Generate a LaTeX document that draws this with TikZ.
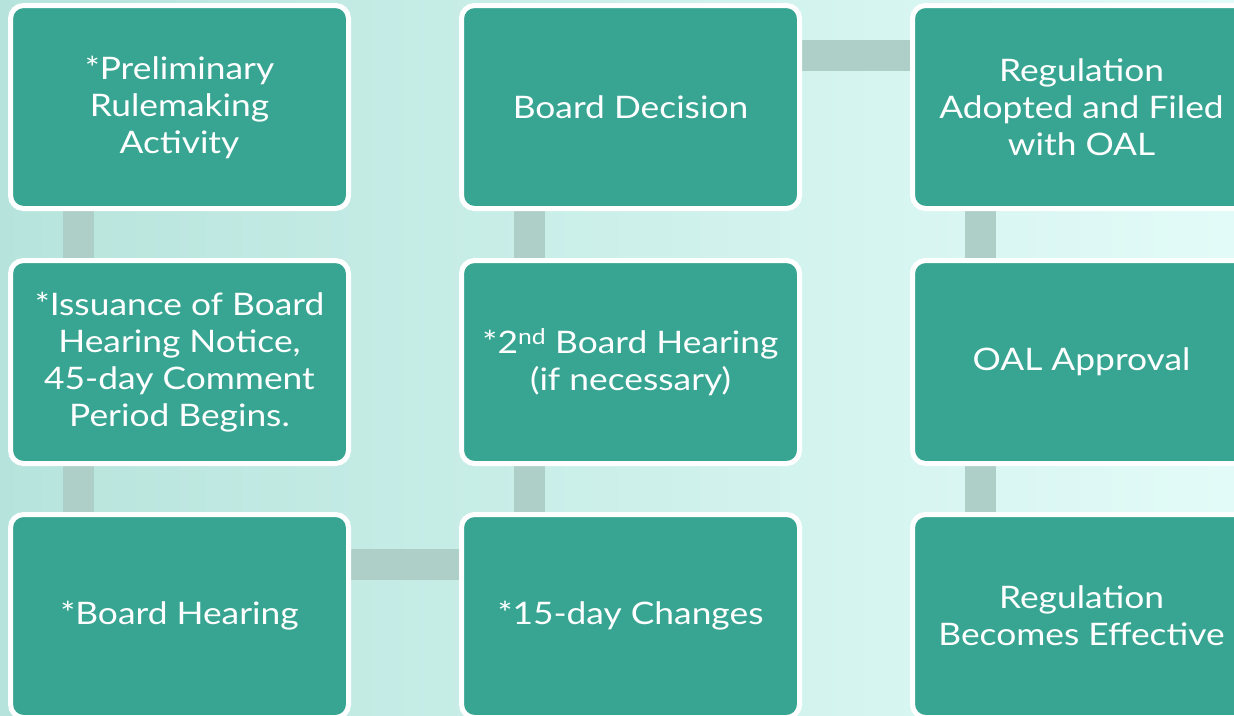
\documentclass[tikz,border=0pt]{standalone}
\usepackage{fontspec}
\setmainfont{Lato}[FakeStretch=1.14]
\usetikzlibrary{calc}
\definecolor{boxfill}{HTML}{38A593}
\definecolor{conncol}{HTML}{AECEC8}
\definecolor{bgL}{HTML}{B6E4DC}
\definecolor{bgR}{HTML}{E3FBF8}
\pgfdeclarelayer{bg}
\pgfdeclarelayer{links}
\pgfsetlayers{bg,links,main}
\tikzset{
  stepbox/.style={draw=white, line width=5pt, fill=boxfill, rounded corners=13pt,
    minimum width=338pt, minimum height=203pt, text=white, align=center,
    font=\fontsize{31}{37}\selectfont, inner sep=0pt},
  link/.style={draw=conncol, line width=31pt}
}
\begin{document}
\begin{tikzpicture}[x=1pt,y=-1pt]
\useasboundingbox (0,0) rectangle (1234,715);
\clip (0,0) rectangle (1234,715);
\begin{pgfonlayer}{bg}
\shade[left color=bgL, right color=bgR] (0,0) rectangle (1234,715);
\end{pgfonlayer}
\node[stepbox] (b1) at (179.5,107) {*Preliminary\\Rulemaking\\Activity};
\node[stepbox] (b2) at (179.5,362) {*Issuance of Board\\Hearing Notice,\\45-day Comment\\Period Begins.};
\node[stepbox] (b3) at (179.5,616) {*Board Hearing};
\node[stepbox] (b4) at (630.5,616) {*15-day Changes};
\node[stepbox] (b5) at (630.5,362) {*2\textsuperscript{nd} Board Hearing\\(if necessary)};
\node[stepbox] (b6) at (630.5,107) {Board Decision};
\node[stepbox] (b7) at (1081.5,107) {Regulation\\Adopted and Filed\\with OAL};
\node[stepbox] (b8) at (1081.5,362) {OAL Approval};
\node[stepbox] (b9) at (1081.5,616) {Regulation\\Becomes Effective};
\begin{pgfonlayer}{links}
\draw[link] ([xshift=-101pt]b1.center) -- ([xshift=-101pt]b3.center);
\draw[link] ([yshift=52pt]b3.center) -- ([yshift=52pt]b4.center);
\draw[link] ([xshift=-101pt]b4.center) -- ([xshift=-101pt]b6.center);
\draw[link] ([yshift=52pt]b6.center) -- ([yshift=52pt]b7.center);
\draw[link] ([xshift=-101pt]b7.center) -- ([xshift=-101pt]b9.center);
\end{pgfonlayer}
\end{tikzpicture}
\end{document}
